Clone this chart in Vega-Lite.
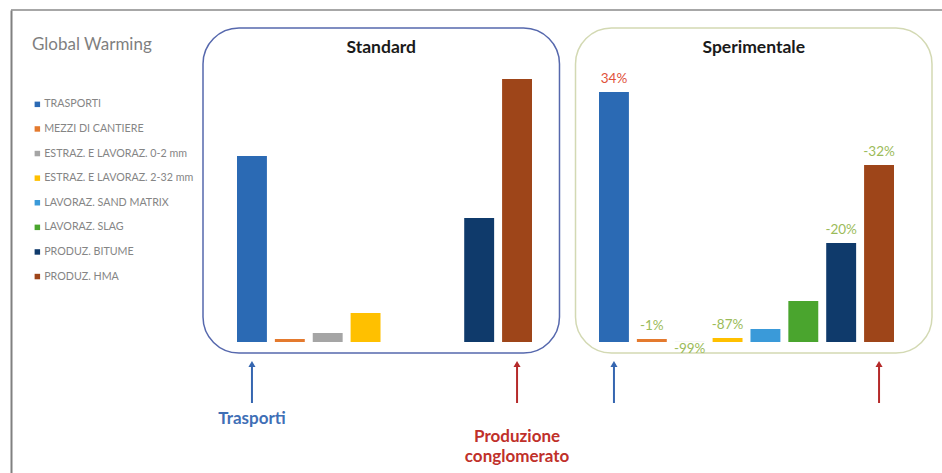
{
  "$schema": "https://vega.github.io/schema/vega-lite/v6.json",
  "width": 931,
  "height": 463,
  "autosize": {"type": "none"},
  "padding": {"left": 11, "top": 10, "right": 0, "bottom": 0},
  "background": "white",
  "view": {"stroke": null},
  "config": {"font": "Lato", "axisY": {"orient": "left", "domain": true, "domainColor": "#808080", "domainWidth": 2, "ticks": false, "labels": false, "grid": false, "title": null}},
  "datasets": {
    "panels": [{"panel": "Standard"}, {"panel": "Sperimentale"}],
    "bars": [
      {"panel": "Standard", "category": "TRASPORTI", "value": 18.6},
      {"panel": "Standard", "category": "MEZZI DI CANTIERE", "value": 0.3},
      {"panel": "Standard", "category": "ESTRAZ. E LAVORAZ. 0-2 mm", "value": 0.9},
      {"panel": "Standard", "category": "ESTRAZ. E LAVORAZ. 2-32 mm", "value": 2.9},
      {"panel": "Standard", "category": "LAVORAZ. SAND MATRIX", "value": 0},
      {"panel": "Standard", "category": "LAVORAZ. SLAG", "value": 0},
      {"panel": "Standard", "category": "PRODUZ. BITUME", "value": 12.4},
      {"panel": "Standard", "category": "PRODUZ. HMA", "value": 26.3},
      {"panel": "Sperimentale", "category": "TRASPORTI", "value": 25.0, "change": 34, "label": "34%"},
      {"panel": "Sperimentale", "category": "MEZZI DI CANTIERE", "value": 0.3, "change": -1, "label": "-1%"},
      {"panel": "Sperimentale", "category": "ESTRAZ. E LAVORAZ. 0-2 mm", "value": 0.01, "change": -99, "label": "-99%"},
      {"panel": "Sperimentale", "category": "ESTRAZ. E LAVORAZ. 2-32 mm", "value": 0.4, "change": -87, "label": "-87%"},
      {"panel": "Sperimentale", "category": "LAVORAZ. SAND MATRIX", "value": 1.3},
      {"panel": "Sperimentale", "category": "LAVORAZ. SLAG", "value": 4.1},
      {"panel": "Sperimentale", "category": "PRODUZ. BITUME", "value": 9.9, "change": -20, "label": "-20%"},
      {"panel": "Sperimentale", "category": "PRODUZ. HMA", "value": 17.7, "change": -32, "label": "-32%"}
    ],
    "notes": [
      {"panel": "Standard", "category": "TRASPORTI", "note": "Trasporti"},
      {"panel": "Standard", "category": "PRODUZ. HMA", "note": "Produzione\nconglomerato"},
      {"panel": "Sperimentale", "category": "TRASPORTI", "note": ""},
      {"panel": "Sperimentale", "category": "PRODUZ. HMA", "note": ""}
    ]
  },
  "layer": [
    {
      "data": {"values": [{"frame": "border"}]},
      "mark": {"type": "rule", "color": "#8a8a8a", "strokeWidth": 1.5},
      "encoding": {
        "y": {"datum": 33.2, "type": "quantitative", "scale": {"domain": [-13.1, 33.2], "nice": false}}
      }
    },
    {
      "data": {"name": "panels"},
      "encoding": {
        "x": {"field": "panel", "type": "nominal", "axis": null,
          "scale": {"domain": ["Standard", "Sperimentale"], "range": [192, 921], "paddingInner": 0.043, "paddingOuter": 0}}
      },
      "layer": [
        {
          "mark": {"type": "rect", "filled": false, "cornerRadius": 36, "strokeWidth": 1.5},
          "encoding": {
            "y": {"datum": 31.4, "type": "quantitative", "scale": {"domain": [-13.1, 33.2], "nice": false}},
            "y2": {"datum": -1.1},
            "color": {"condition": {"test": "datum.panel === 'Standard'", "value": "#5668ad"}, "value": "#d3d9b3"}
          }
        },
        {
          "mark": {"type": "text", "fontSize": 17.5, "fontWeight": "bold", "baseline": "middle", "color": "#1a1a1a"},
          "encoding": {
            "y": {"datum": 29.4, "type": "quantitative", "scale": {"domain": [-13.1, 33.2], "nice": false}},
            "text": {"field": "panel"}
          }
        }
      ]
    },
    {
      "encoding": {
        "x": {"field": "category", "type": "nominal", "axis": null,
          "scale": {"domain": ["TRASPORTI", "MEZZI DI CANTIERE", "ESTRAZ. E LAVORAZ. 0-2 mm", "ESTRAZ. E LAVORAZ. 2-32 mm", "LAVORAZ. SAND MATRIX", "LAVORAZ. SLAG", "PRODUZ. BITUME", "PRODUZ. HMA"], "range": [226, 521], "paddingInner": 0.21, "paddingOuter": 0}}
      },
      "layer": [
        {
          "data": {"name": "bars"},
          "transform": [{"filter": "datum.panel === 'Standard'"}],
          "mark": "bar",
          "encoding": {
            "y": {"field": "value", "type": "quantitative", "scale": {"domain": [-13.1, 33.2], "nice": false}},
            "color": {"field": "category", "type": "nominal",
              "scale": {"domain": ["TRASPORTI", "MEZZI DI CANTIERE", "ESTRAZ. E LAVORAZ. 0-2 mm", "ESTRAZ. E LAVORAZ. 2-32 mm", "LAVORAZ. SAND MATRIX", "LAVORAZ. SLAG", "PRODUZ. BITUME", "PRODUZ. HMA"],
                "range": ["#2b6ab4", "#e47a2e", "#a5a5a5", "#ffc000", "#3a9ad9", "#4aa52e", "#0f3a6b", "#9e4519"]},
              "legend": {"orient": "none", "legendX": 21, "legendY": 27, "title": "Global Warming", "titleFontSize": 17, "titleFontWeight": "normal", "titleColor": "#7f7f7f", "titlePadding": 45, "labelFontSize": 10.7, "labelColor": "#858585", "symbolType": "square", "symbolSize": 30, "symbolStrokeWidth": 0, "rowPadding": 12.6, "labelOffset": 1.5, "labelLimit": 300, "padding": 0}}
          }
        },
        {
          "data": {"name": "notes"},
          "transform": [{"filter": "datum.panel === 'Standard'"}],
          "mark": {"type": "rule", "strokeWidth": 2},
          "encoding": {
            "y": {"datum": -2.3, "type": "quantitative", "scale": {"domain": [-13.1, 33.2], "nice": false}},
            "y2": {"datum": -6.1},
            "color": {"condition": {"test": "datum.category === 'TRASPORTI'", "value": "#3566b0"}, "value": "#b52a2a"}
          }
        },
        {
          "data": {"name": "notes"},
          "transform": [{"filter": "datum.panel === 'Standard'"}],
          "mark": {"type": "point", "shape": "triangle-up", "filled": true, "size": 50, "opacity": 1},
          "encoding": {
            "y": {"datum": -2.2, "type": "quantitative", "scale": {"domain": [-13.1, 33.2], "nice": false}},
            "color": {"condition": {"test": "datum.category === 'TRASPORTI'", "value": "#3566b0"}, "value": "#b52a2a"}
          }
        },
        {
          "data": {"name": "notes"},
          "transform": [{"filter": "datum.panel === 'Standard' && datum.category === 'TRASPORTI'"}],
          "mark": {"type": "text", "fontSize": 17, "fontWeight": "bold", "baseline": "top", "color": "#3f6fb6"},
          "encoding": {
            "y": {"datum": -6.9, "type": "quantitative", "scale": {"domain": [-13.1, 33.2], "nice": false}},
            "text": {"field": "note"}
          }
        },
        {
          "data": {"name": "notes"},
          "transform": [{"filter": "datum.panel === 'Standard' && datum.category === 'PRODUZ. HMA'"}],
          "mark": {"type": "text", "fontSize": 17, "fontWeight": "bold", "baseline": "top", "lineBreak": "\n", "lineHeight": 20, "color": "#c0302a"},
          "encoding": {
            "y": {"datum": -8.7, "type": "quantitative", "scale": {"domain": [-13.1, 33.2], "nice": false}},
            "text": {"field": "note"}
          }
        }
      ]
    },
    {
      "encoding": {
        "x": {"field": "category", "type": "nominal", "axis": null,
          "scale": {"domain": ["TRASPORTI", "MEZZI DI CANTIERE", "ESTRAZ. E LAVORAZ. 0-2 mm", "ESTRAZ. E LAVORAZ. 2-32 mm", "LAVORAZ. SAND MATRIX", "LAVORAZ. SLAG", "PRODUZ. BITUME", "PRODUZ. HMA"], "range": [588, 883], "paddingInner": 0.21, "paddingOuter": 0}}
      },
      "layer": [
        {
          "data": {"name": "bars"},
          "transform": [{"filter": "datum.panel === 'Sperimentale'"}],
          "mark": "bar",
          "encoding": {
            "y": {"field": "value", "type": "quantitative", "scale": {"domain": [-13.1, 33.2], "nice": false}},
            "color": {"field": "category", "type": "nominal"}
          }
        },
        {
          "data": {"name": "bars"},
          "transform": [{"filter": "datum.panel === 'Sperimentale' && isValid(datum.label) && datum.change > -90"}],
          "mark": {"type": "text", "fontSize": 13.5, "baseline": "alphabetic", "dy": -9},
          "encoding": {
            "y": {"field": "value", "type": "quantitative", "scale": {"domain": [-13.1, 33.2], "nice": false}},
            "text": {"field": "label"},
            "color": {"condition": {"test": "datum.change > 0", "value": "#e0503a"}, "value": "#9bbb59"}
          }
        },
        {
          "data": {"name": "bars"},
          "transform": [{"filter": "datum.panel === 'Sperimentale' && isValid(datum.label) && datum.change <= -90"}],
          "mark": {"type": "text", "fontSize": 13.5, "baseline": "top", "dy": 0, "color": "#9bbb59"},
          "encoding": {
            "y": {"field": "value", "type": "quantitative", "scale": {"domain": [-13.1, 33.2], "nice": false}},
            "text": {"field": "label"}
          }
        },
        {
          "data": {"name": "notes"},
          "transform": [{"filter": "datum.panel === 'Sperimentale'"}],
          "mark": {"type": "rule", "strokeWidth": 2},
          "encoding": {
            "y": {"datum": -2.3, "type": "quantitative", "scale": {"domain": [-13.1, 33.2], "nice": false}},
            "y2": {"datum": -6.1},
            "color": {"condition": {"test": "datum.category === 'TRASPORTI'", "value": "#3566b0"}, "value": "#b52a2a"}
          }
        },
        {
          "data": {"name": "notes"},
          "transform": [{"filter": "datum.panel === 'Sperimentale'"}],
          "mark": {"type": "point", "shape": "triangle-up", "filled": true, "size": 50, "opacity": 1},
          "encoding": {
            "y": {"datum": -2.2, "type": "quantitative", "scale": {"domain": [-13.1, 33.2], "nice": false}},
            "color": {"condition": {"test": "datum.category === 'TRASPORTI'", "value": "#3566b0"}, "value": "#b52a2a"}
          }
        }
      ]
    }
  ],
  "resolve": {"scale": {"x": "independent"}}
}
